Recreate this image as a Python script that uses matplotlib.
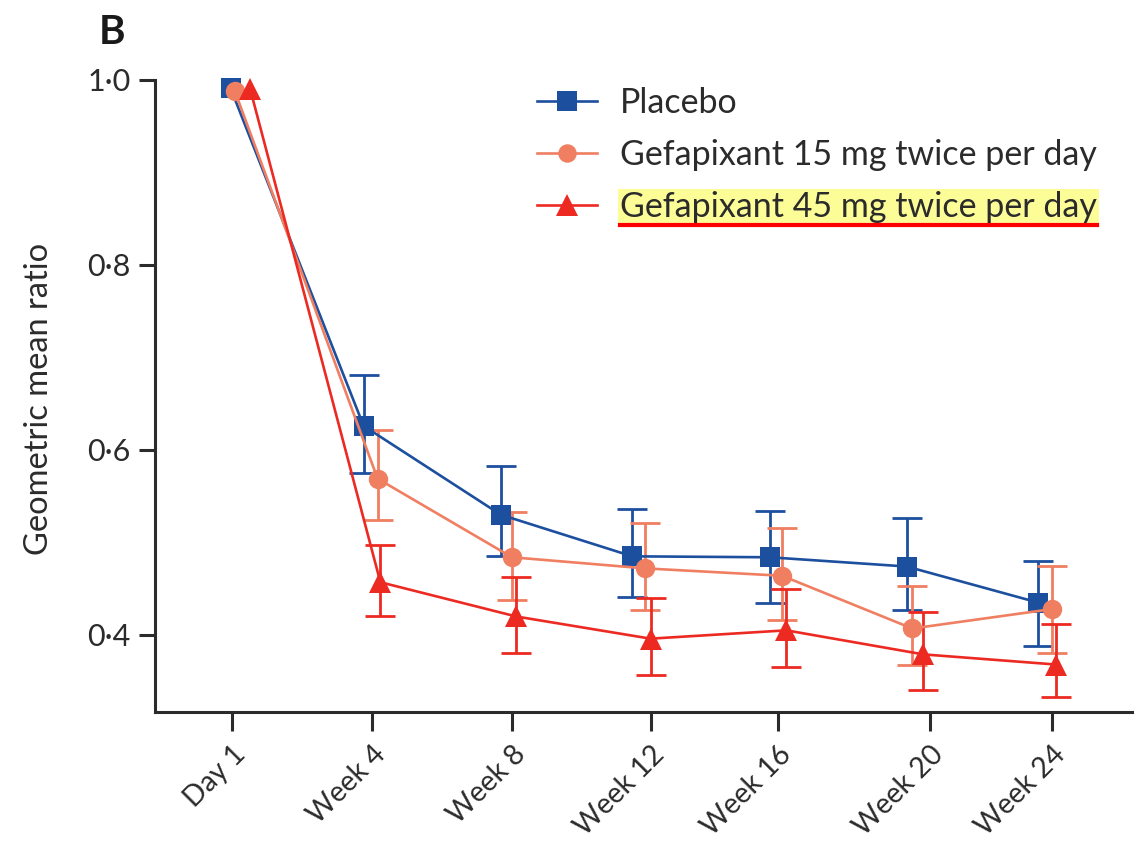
import matplotlib
matplotlib.use("Agg")
import matplotlib.pyplot as plt
from matplotlib.lines import Line2D
import numpy as np

plt.rcParams['font.family'] = ['Lato', 'DejaVu Sans']

# Visits and tick labels
visits = ["Day 1", "Week 4", "Week 8", "Week 12", "Week 16", "Week 20", "Week 24"]
visit_pos = [0, 1, 2, 2.99, 3.9, 4.99, 5.86]

# Geometric mean ratio with 95% CI (no interval at day 1)
placebo = [0.991, 0.626, 0.530, 0.485, 0.484, 0.474, 0.435]
placebo_lo = [None, 0.575, 0.485, 0.441, 0.435, 0.427, 0.388]
placebo_hi = [None, 0.681, 0.583, 0.536, 0.534, 0.526, 0.480]

gef15 = [0.988, 0.569, 0.484, 0.472, 0.464, 0.407, 0.428]
gef15_lo = [None, 0.524, 0.438, 0.427, 0.416, 0.368, 0.381]
gef15_hi = [None, 0.622, 0.533, 0.521, 0.516, 0.453, 0.475]

gef45 = [0.990, 0.457, 0.420, 0.396, 0.405, 0.379, 0.368]
gef45_lo = [None, 0.421, 0.381, 0.357, 0.365, 0.340, 0.333]
gef45_hi = [None, 0.497, 0.463, 0.440, 0.450, 0.425, 0.412]

# horizontal placement of each group's points around the visit ticks
x_placebo = [-0.01, 0.94, 1.92, 2.86, 3.84, 4.82, 5.76]
x_gef15 = [0.02, 1.04, 2.00, 2.95, 3.93, 4.86, 5.86]
x_gef45 = [0.13, 1.06, 2.03, 2.99, 3.96, 4.94, 5.89]

labels = ["Placebo", "Gefapixant 15 mg twice per day", "Gefapixant 45 mg twice per day"]
colors = ["#1d4f9f", "#f07f62", "#ec2a22"]
markers = ["s", "o", "^"]
msizes = [15, 14, 16]
ink = '#2b2b2b'

fig = plt.figure(figsize=(11.4, 8.42), dpi=100)
ax = fig.add_axes([0.136, 0.1547, 0.857, 0.7833])

series = [
    (x_placebo, placebo, placebo_lo, placebo_hi),
    (x_gef15, gef15, gef15_lo, gef15_hi),
    (x_gef45, gef45, gef45_lo, gef45_hi),
]

for (xs, ys, lo, hi), c, m, ms in zip(series, colors, markers, msizes):
    xs = np.asarray(xs, float)
    ys = np.asarray(ys, float)
    lo = np.asarray(lo[1:], float)
    hi = np.asarray(hi[1:], float)
    ax.errorbar(xs[1:], ys[1:], yerr=[ys[1:] - lo, hi - ys[1:]], fmt='none',
                ecolor=c, elinewidth=2.0, capsize=11, capthick=2.0, zorder=2)
    ax.plot(xs, ys, color=c, lw=1.9, marker=m, ms=ms, markeredgewidth=0,
            zorder=3, clip_on=False)

ymin = 0.317
ax.set_ylim(ymin, 1.03)
ax.set_xlim(-0.55, 6.43)
ax.spines['top'].set_visible(False)
ax.spines['right'].set_visible(False)
ax.spines['left'].set_bounds(ymin, 1.0)
for s in ('left', 'bottom'):
    ax.spines[s].set_linewidth(2.2)
    ax.spines[s].set_color(ink)

ax.set_yticks([0.4, 0.6, 0.8, 1.0])
ax.set_yticklabels(["0·4", "0·6", "0·8", "1·0"])
ax.set_xticks(visit_pos)
ax.set_xticklabels(visits, rotation=45, ha='right', va='top', rotation_mode='anchor')
ax.tick_params(axis='y', length=11.5, width=2.2, color=ink, labelsize=22,
               pad=6, labelcolor=ink)
ax.tick_params(axis='x', length=14, width=2.2, color=ink, labelsize=20.5,
               pad=7, labelcolor=ink)
ax.set_ylabel("Geometric mean ratio", fontsize=23.5, color=ink)
ax.yaxis.set_label_coords(-0.103, 0.474)

fig.text(0.087, 0.948, "B", fontsize=29, fontweight='bold', color='#1a1a1a')

handles = [Line2D([], [], color=c, lw=1.9, marker=m, ms=ms * 0.95, markeredgewidth=0)
           for c, m, ms in zip(colors, markers, msizes)]
leg = ax.legend(handles, labels, loc='upper left', bbox_to_anchor=(0.391, 0.948),
                frameon=False, fontsize=24.5, handlelength=1.76, handletextpad=0.68,
                labelspacing=0.6, borderaxespad=0, borderpad=0)
for t in leg.get_texts():
    t.set_color(ink)

# highlight and underline the 45 mg entry
hl = leg.get_texts()[2]
hl.set_bbox(dict(facecolor='#fdfd98', edgecolor='none', pad=1.5))
fig.canvas.draw()
bb = hl.get_window_extent()
W, H = fig.bbox.width, fig.bbox.height
fig.add_artist(Line2D([bb.x0 / W, bb.x1 / W], [(bb.y0 - 2) / H] * 2,
                      color='#ff0000', lw=3, transform=fig.transFigure))

fig.savefig("out.png", dpi=100)
